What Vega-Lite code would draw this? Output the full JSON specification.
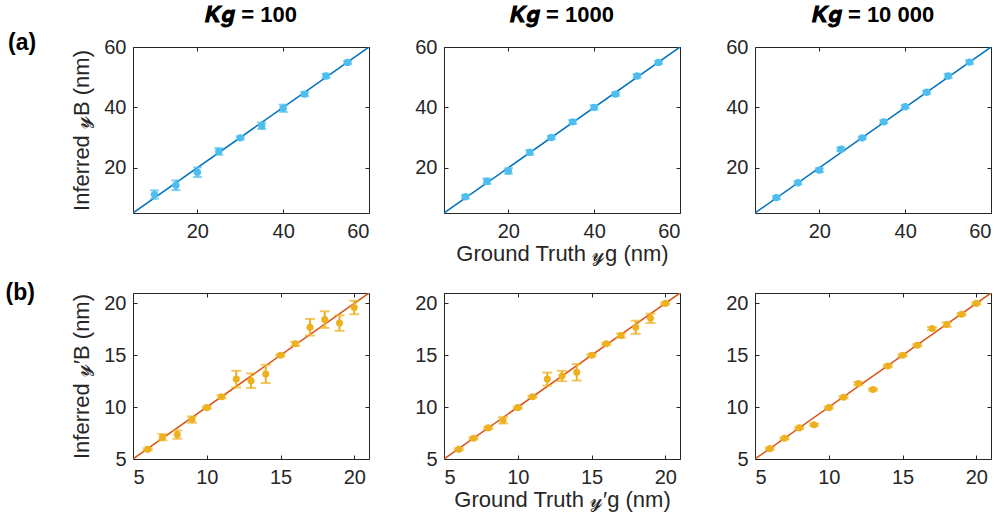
{
  "$schema": "https://vega.github.io/schema/vega-lite/v6.json",
  "background": "white",
  "padding": {"left": 5, "top": 3, "right": 5, "bottom": 2},
  "config": {
    "font": "Liberation Sans",
    "view": {"stroke": "#262626", "strokeWidth": 1},
    "axis": {"grid": false, "domain": false, "tickColor": "#262626", "tickSize": -4, "tickWidth": 1,
      "labelFont": "Liberation Sans", "labelFontSize": 20, "labelColor": "#262626",
      "titleFont": "Liberation Sans", "titleFontSize": 22, "titleFontWeight": "normal", "titleColor": "#262626"},
    "axisX": {"labelPadding": 12, "titlePadding": 2},
    "axisY": {"labelPadding": 11, "titlePadding": 10},
    "title": {"font": "Liberation Sans", "fontSize": 22, "fontWeight": "bold", "color": "#000000", "offset": 10}
  },
  "datasets": {
    "topline": [{"x": 5, "y": 5}, {"x": 60, "y": 60}],
    "botline": [{"x": 5, "y": 5}, {"x": 21, "y": 21}],
    "top": [
      {"p": "100", "x": 10, "y": 11.1, "e": 1.4},
      {"p": "100", "x": 15, "y": 14.2, "e": 1.6},
      {"p": "100", "x": 20, "y": 18.5, "e": 1.6},
      {"p": "100", "x": 25, "y": 25.4, "e": 1.1},
      {"p": "100", "x": 30, "y": 29.9, "e": 0.5},
      {"p": "100", "x": 35, "y": 33.9, "e": 1.1},
      {"p": "100", "x": 40, "y": 39.7, "e": 1.2},
      {"p": "100", "x": 45, "y": 44.4, "e": 0.7},
      {"p": "100", "x": 50, "y": 50.4, "e": 0.7},
      {"p": "100", "x": 55, "y": 54.9, "e": 0.5},
      {"p": "1000", "x": 10, "y": 10.4, "e": 0.6},
      {"p": "1000", "x": 15, "y": 15.5, "e": 0.9},
      {"p": "1000", "x": 20, "y": 18.9, "e": 0.9},
      {"p": "1000", "x": 25, "y": 25.1, "e": 0.8},
      {"p": "1000", "x": 30, "y": 30.0, "e": 0.5},
      {"p": "1000", "x": 35, "y": 35.2, "e": 0.6},
      {"p": "1000", "x": 40, "y": 40.0, "e": 0.7},
      {"p": "1000", "x": 45, "y": 44.4, "e": 0.6},
      {"p": "1000", "x": 50, "y": 50.4, "e": 0.6},
      {"p": "1000", "x": 55, "y": 54.9, "e": 0.5},
      {"p": "10000", "x": 10, "y": 10.1, "e": 0.5},
      {"p": "10000", "x": 15, "y": 15.0, "e": 0.5},
      {"p": "10000", "x": 20, "y": 19.2, "e": 0.6},
      {"p": "10000", "x": 25, "y": 26.1, "e": 0.6},
      {"p": "10000", "x": 30, "y": 29.9, "e": 0.4},
      {"p": "10000", "x": 35, "y": 35.2, "e": 0.5},
      {"p": "10000", "x": 40, "y": 40.2, "e": 0.5},
      {"p": "10000", "x": 45, "y": 45.0, "e": 0.5},
      {"p": "10000", "x": 50, "y": 50.4, "e": 0.7},
      {"p": "10000", "x": 55, "y": 55.0, "e": 0.6}
    ],
    "bot": [
      {"p": "100", "x": 6, "y": 5.93, "e": 0.1},
      {"p": "100", "x": 7, "y": 7.1, "e": 0.3},
      {"p": "100", "x": 8, "y": 7.35, "e": 0.4},
      {"p": "100", "x": 9, "y": 8.8, "e": 0.3},
      {"p": "100", "x": 10, "y": 9.95, "e": 0.1},
      {"p": "100", "x": 11, "y": 11.0, "e": 0.15},
      {"p": "100", "x": 12, "y": 12.7, "e": 0.8},
      {"p": "100", "x": 13, "y": 12.55, "e": 0.7},
      {"p": "100", "x": 14, "y": 13.2, "e": 0.88},
      {"p": "100", "x": 15, "y": 15.0, "e": 0.1},
      {"p": "100", "x": 16, "y": 16.1, "e": 0.2},
      {"p": "100", "x": 17, "y": 17.7, "e": 0.8},
      {"p": "100", "x": 18, "y": 18.44, "e": 0.8},
      {"p": "100", "x": 19, "y": 18.1, "e": 0.75},
      {"p": "100", "x": 20, "y": 19.6, "e": 0.65},
      {"p": "1000", "x": 6, "y": 5.93, "e": 0.1},
      {"p": "1000", "x": 7, "y": 7.0, "e": 0.1},
      {"p": "1000", "x": 8, "y": 8.0, "e": 0.1},
      {"p": "1000", "x": 9, "y": 8.73, "e": 0.3},
      {"p": "1000", "x": 10, "y": 9.95, "e": 0.1},
      {"p": "1000", "x": 11, "y": 11.0, "e": 0.1},
      {"p": "1000", "x": 12, "y": 12.7, "e": 0.63},
      {"p": "1000", "x": 13, "y": 13.0, "e": 0.5},
      {"p": "1000", "x": 14, "y": 13.36, "e": 0.8},
      {"p": "1000", "x": 15, "y": 15.0, "e": 0.1},
      {"p": "1000", "x": 16, "y": 16.1, "e": 0.1},
      {"p": "1000", "x": 17, "y": 16.9, "e": 0.2},
      {"p": "1000", "x": 18, "y": 17.7, "e": 0.63},
      {"p": "1000", "x": 19, "y": 18.56, "e": 0.45},
      {"p": "1000", "x": 20, "y": 20.0, "e": 0.1},
      {"p": "10000", "x": 6, "y": 6.0, "e": 0.1},
      {"p": "10000", "x": 7, "y": 7.0, "e": 0.1},
      {"p": "10000", "x": 8, "y": 8.0, "e": 0.1},
      {"p": "10000", "x": 9, "y": 8.3, "e": 0.1},
      {"p": "10000", "x": 10, "y": 9.95, "e": 0.1},
      {"p": "10000", "x": 11, "y": 10.95, "e": 0.1},
      {"p": "10000", "x": 12, "y": 12.27, "e": 0.15},
      {"p": "10000", "x": 13, "y": 11.7, "e": 0.1},
      {"p": "10000", "x": 14, "y": 13.97, "e": 0.1},
      {"p": "10000", "x": 15, "y": 15.0, "e": 0.1},
      {"p": "10000", "x": 16, "y": 15.96, "e": 0.1},
      {"p": "10000", "x": 17, "y": 17.57, "e": 0.15},
      {"p": "10000", "x": 18, "y": 17.96, "e": 0.2},
      {"p": "10000", "x": 19, "y": 18.95, "e": 0.1},
      {"p": "10000", "x": 20, "y": 20.0, "e": 0.1}
    ]
  },
  "spacing": 16,
  "vconcat": [
    {
      "title": {"text": "(a)", "orient": "left", "angle": 0, "anchor": "end", "fontSize": 23, "fontWeight": "bold", "offset": 6, "dy": 28},
      "bounds": "flush",
      "spacing": 75,
      "hconcat": [
        {
          "width": 236, "height": 166,
          "title": {"text": "𝑲𝒈 = 100"},
          "layer": [
            {"data": {"name": "topline"}, "mark": {"type": "line", "color": "#0072BD", "strokeWidth": 1.5, "clip": true},
             "encoding": {"x": {"field": "x", "type": "quantitative", "scale": {"domain": [5, 60], "nice": false}, "axis": {"values": [20, 40, 60], "title": null}},
                          "y": {"field": "y", "type": "quantitative", "scale": {"domain": [5, 60], "nice": false}, "axis": {"values": [20, 40, 60], "title": "Inferred 𝓎B (nm)"}}}},
            {"data": {"name": "top"}, "transform": [{"filter": "datum.p == '100'"}],
             "mark": {"type": "errorbar", "color": "#4DBEEE", "thickness": 2, "ticks": {"size": 9, "thickness": 2}},
             "encoding": {"x": {"field": "x", "type": "quantitative", "axis": null}, "y": {"field": "y", "type": "quantitative", "axis": null}, "yError": {"field": "e"}}},
            {"data": {"name": "top"}, "transform": [{"filter": "datum.p == '100'"}],
             "mark": {"type": "point", "filled": true, "color": "#4DBEEE", "size": 55, "opacity": 1},
             "encoding": {"x": {"field": "x", "type": "quantitative", "axis": null}, "y": {"field": "y", "type": "quantitative", "axis": null}}},
            {"data": {"name": "topline"}, "mark": {"type": "point", "opacity": 0},
             "encoding": {"x": {"field": "x", "type": "quantitative", "axis": {"orient": "top", "labels": false, "values": [20, 40, 60], "title": null}},
                          "y": {"field": "y", "type": "quantitative", "axis": {"orient": "right", "labels": false, "values": [20, 40, 60], "title": null}}}}
          ],
          "resolve": {"axis": {"x": "independent", "y": "independent"}}
        },
        {
          "width": 236, "height": 166,
          "title": {"text": "𝑲𝒈 = 1000"},
          "layer": [
            {"data": {"name": "topline"}, "mark": {"type": "line", "color": "#0072BD", "strokeWidth": 1.5, "clip": true},
             "encoding": {"x": {"field": "x", "type": "quantitative", "scale": {"domain": [5, 60], "nice": false}, "axis": {"values": [20, 40, 60], "title": "Ground Truth 𝓎g (nm)"}},
                          "y": {"field": "y", "type": "quantitative", "scale": {"domain": [5, 60], "nice": false}, "axis": {"values": [20, 40, 60], "title": null}}}},
            {"data": {"name": "top"}, "transform": [{"filter": "datum.p == '1000'"}],
             "mark": {"type": "errorbar", "color": "#4DBEEE", "thickness": 2, "ticks": {"size": 9, "thickness": 2}},
             "encoding": {"x": {"field": "x", "type": "quantitative", "axis": null}, "y": {"field": "y", "type": "quantitative", "axis": null}, "yError": {"field": "e"}}},
            {"data": {"name": "top"}, "transform": [{"filter": "datum.p == '1000'"}],
             "mark": {"type": "point", "filled": true, "color": "#4DBEEE", "size": 55, "opacity": 1},
             "encoding": {"x": {"field": "x", "type": "quantitative", "axis": null}, "y": {"field": "y", "type": "quantitative", "axis": null}}},
            {"data": {"name": "topline"}, "mark": {"type": "point", "opacity": 0},
             "encoding": {"x": {"field": "x", "type": "quantitative", "axis": {"orient": "top", "labels": false, "values": [20, 40, 60], "title": null}},
                          "y": {"field": "y", "type": "quantitative", "axis": {"orient": "right", "labels": false, "values": [20, 40, 60], "title": null}}}}
          ],
          "resolve": {"axis": {"x": "independent", "y": "independent"}}
        },
        {
          "width": 236, "height": 166,
          "title": {"text": "𝑲𝒈 = 10 000"},
          "layer": [
            {"data": {"name": "topline"}, "mark": {"type": "line", "color": "#0072BD", "strokeWidth": 1.5, "clip": true},
             "encoding": {"x": {"field": "x", "type": "quantitative", "scale": {"domain": [5, 60], "nice": false}, "axis": {"values": [20, 40, 60], "title": null}},
                          "y": {"field": "y", "type": "quantitative", "scale": {"domain": [5, 60], "nice": false}, "axis": {"values": [20, 40, 60], "title": null}}}},
            {"data": {"name": "top"}, "transform": [{"filter": "datum.p == '10000'"}],
             "mark": {"type": "errorbar", "color": "#4DBEEE", "thickness": 2, "ticks": {"size": 9, "thickness": 2}},
             "encoding": {"x": {"field": "x", "type": "quantitative", "axis": null}, "y": {"field": "y", "type": "quantitative", "axis": null}, "yError": {"field": "e"}}},
            {"data": {"name": "top"}, "transform": [{"filter": "datum.p == '10000'"}],
             "mark": {"type": "point", "filled": true, "color": "#4DBEEE", "size": 55, "opacity": 1},
             "encoding": {"x": {"field": "x", "type": "quantitative", "axis": null}, "y": {"field": "y", "type": "quantitative", "axis": null}}},
            {"data": {"name": "topline"}, "mark": {"type": "point", "opacity": 0},
             "encoding": {"x": {"field": "x", "type": "quantitative", "axis": {"orient": "top", "labels": false, "values": [20, 40, 60], "title": null}},
                          "y": {"field": "y", "type": "quantitative", "axis": {"orient": "right", "labels": false, "values": [20, 40, 60], "title": null}}}}
          ],
          "resolve": {"axis": {"x": "independent", "y": "independent"}}
        }
      ]
    },
    {
      "title": {"text": "(b)", "orient": "left", "angle": 0, "anchor": "end", "fontSize": 23, "fontWeight": "bold", "offset": 6, "dy": -8},
      "bounds": "flush",
      "spacing": 75,
      "hconcat": [
        {
          "width": 236, "height": 166,
          "layer": [
            {"data": {"name": "botline"}, "mark": {"type": "line", "color": "#D95319", "strokeWidth": 1.5, "clip": true},
             "encoding": {"x": {"field": "x", "type": "quantitative", "scale": {"domain": [5, 21], "nice": false}, "axis": {"values": [5, 10, 15, 20], "title": null}},
                          "y": {"field": "y", "type": "quantitative", "scale": {"domain": [5, 21], "nice": false}, "axis": {"values": [5, 10, 15, 20], "title": "Inferred 𝓎′B (nm)"}}}},
            {"data": {"name": "bot"}, "transform": [{"filter": "datum.p == '100'"}],
             "mark": {"type": "errorbar", "color": "#EDB120", "thickness": 2, "ticks": {"size": 10, "thickness": 2}},
             "encoding": {"x": {"field": "x", "type": "quantitative", "axis": null}, "y": {"field": "y", "type": "quantitative", "axis": null}, "yError": {"field": "e"}}},
            {"data": {"name": "bot"}, "transform": [{"filter": "datum.p == '100'"}],
             "mark": {"type": "point", "filled": true, "color": "#EDB120", "size": 50, "opacity": 1},
             "encoding": {"x": {"field": "x", "type": "quantitative", "axis": null}, "y": {"field": "y", "type": "quantitative", "axis": null}}},
            {"data": {"name": "botline"}, "mark": {"type": "point", "opacity": 0},
             "encoding": {"x": {"field": "x", "type": "quantitative", "axis": {"orient": "top", "labels": false, "values": [5, 10, 15, 20], "title": null}},
                          "y": {"field": "y", "type": "quantitative", "axis": {"orient": "right", "labels": false, "values": [5, 10, 15, 20], "title": null}}}}
          ],
          "resolve": {"axis": {"x": "independent", "y": "independent"}}
        },
        {
          "width": 236, "height": 166,
          "layer": [
            {"data": {"name": "botline"}, "mark": {"type": "line", "color": "#D95319", "strokeWidth": 1.5, "clip": true},
             "encoding": {"x": {"field": "x", "type": "quantitative", "scale": {"domain": [5, 21], "nice": false}, "axis": {"values": [5, 10, 15, 20], "title": "Ground Truth 𝓎′g (nm)"}},
                          "y": {"field": "y", "type": "quantitative", "scale": {"domain": [5, 21], "nice": false}, "axis": {"values": [5, 10, 15, 20], "title": null}}}},
            {"data": {"name": "bot"}, "transform": [{"filter": "datum.p == '1000'"}],
             "mark": {"type": "errorbar", "color": "#EDB120", "thickness": 2, "ticks": {"size": 10, "thickness": 2}},
             "encoding": {"x": {"field": "x", "type": "quantitative", "axis": null}, "y": {"field": "y", "type": "quantitative", "axis": null}, "yError": {"field": "e"}}},
            {"data": {"name": "bot"}, "transform": [{"filter": "datum.p == '1000'"}],
             "mark": {"type": "point", "filled": true, "color": "#EDB120", "size": 50, "opacity": 1},
             "encoding": {"x": {"field": "x", "type": "quantitative", "axis": null}, "y": {"field": "y", "type": "quantitative", "axis": null}}},
            {"data": {"name": "botline"}, "mark": {"type": "point", "opacity": 0},
             "encoding": {"x": {"field": "x", "type": "quantitative", "axis": {"orient": "top", "labels": false, "values": [5, 10, 15, 20], "title": null}},
                          "y": {"field": "y", "type": "quantitative", "axis": {"orient": "right", "labels": false, "values": [5, 10, 15, 20], "title": null}}}}
          ],
          "resolve": {"axis": {"x": "independent", "y": "independent"}}
        },
        {
          "width": 236, "height": 166,
          "layer": [
            {"data": {"name": "botline"}, "mark": {"type": "line", "color": "#D95319", "strokeWidth": 1.5, "clip": true},
             "encoding": {"x": {"field": "x", "type": "quantitative", "scale": {"domain": [5, 21], "nice": false}, "axis": {"values": [5, 10, 15, 20], "title": null}},
                          "y": {"field": "y", "type": "quantitative", "scale": {"domain": [5, 21], "nice": false}, "axis": {"values": [5, 10, 15, 20], "title": null}}}},
            {"data": {"name": "bot"}, "transform": [{"filter": "datum.p == '10000'"}],
             "mark": {"type": "errorbar", "color": "#EDB120", "thickness": 2, "ticks": {"size": 10, "thickness": 2}},
             "encoding": {"x": {"field": "x", "type": "quantitative", "axis": null}, "y": {"field": "y", "type": "quantitative", "axis": null}, "yError": {"field": "e"}}},
            {"data": {"name": "bot"}, "transform": [{"filter": "datum.p == '10000'"}],
             "mark": {"type": "point", "filled": true, "color": "#EDB120", "size": 50, "opacity": 1},
             "encoding": {"x": {"field": "x", "type": "quantitative", "axis": null}, "y": {"field": "y", "type": "quantitative", "axis": null}}},
            {"data": {"name": "botline"}, "mark": {"type": "point", "opacity": 0},
             "encoding": {"x": {"field": "x", "type": "quantitative", "axis": {"orient": "top", "labels": false, "values": [5, 10, 15, 20], "title": null}},
                          "y": {"field": "y", "type": "quantitative", "axis": {"orient": "right", "labels": false, "values": [5, 10, 15, 20], "title": null}}}}
          ],
          "resolve": {"axis": {"x": "independent", "y": "independent"}}
        }
      ]
    }
  ]
}
